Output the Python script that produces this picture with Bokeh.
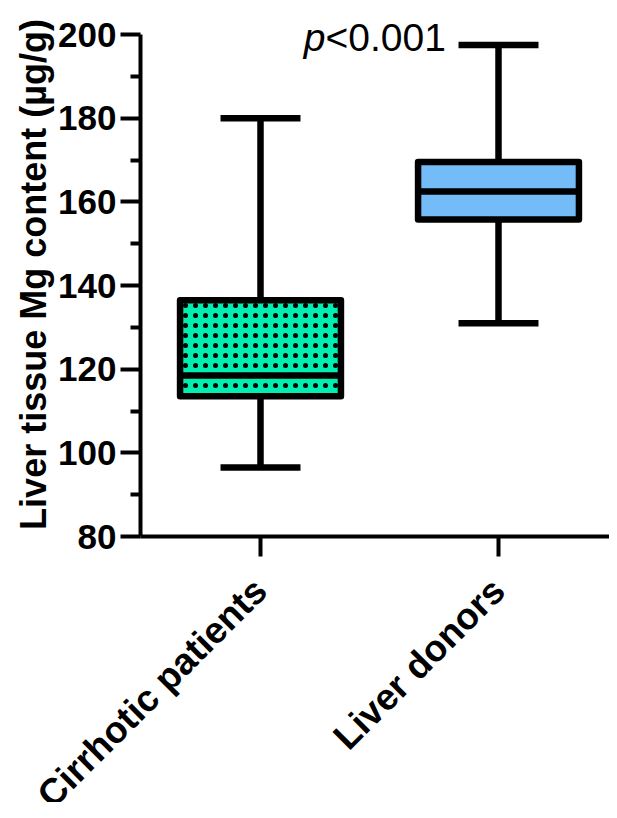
import math
from bokeh.plotting import figure
from bokeh.models import Range1d, FixedTicker, Label
from bokeh.embed import file_html
from bokeh.resources import INLINE

# ---- data ----
groups = ["Cirrhotic patients", "Liver donors"]
positions = [1, 2]
whisker_low = [96.5, 131.0]
q1 = [113.5, 155.8]
median = [118.5, 162.5]
q3 = [136.5, 169.5]
whisker_high = [180.0, 197.5]
y_ticks = [80, 100, 120, 140, 160, 180, 200]
y_minor = [90, 110, 130, 150, 170, 190]
y_label = "Liver tissue Mg content (µg/g)"
p_text_prefix = "p"
p_text_rest = "<0.001"

# ---- styles / layout ----
fills = ["#00EEB0", "#74BCF8"]
hatches = ["dot", "blank"]
FONT = "Liberation Sans"
LW = 6.5
BOX_W = 0.676
CAP_HALF = 0.168
W, H = 609, 802
PX_PER_Y = 502 / 120          # px per y unit
PX_PER_X = 238                # px per x unit
Y_TOP_PX = 34                 # canvas px of y=200
X1_PX = 260                   # canvas px of x=1
AXIS_X_PX = 140               # canvas px of the y axis line

y_top = y_ticks[-1] + Y_TOP_PX / PX_PER_Y
y_bottom = y_top - H / PX_PER_Y
x_start = positions[0] - X1_PX / PX_PER_X
x_end = x_start + W / PX_PER_X
x_axis_loc = x_start + AXIS_X_PX / PX_PER_X

p = figure(width=W, height=H, output_backend="svg", toolbar_location=None,
           x_range=Range1d(x_start, x_end), y_range=Range1d(y_bottom, y_top),
           min_border_left=0, min_border_right=0, min_border_top=0,
           min_border_bottom=0)
p.outline_line_color = None
p.xgrid.visible = False
p.ygrid.visible = False
p.background_fill_color = "white"
p.border_fill_color = "white"

# whiskers (vertical)
p.segment(x0=positions, y0=whisker_low, x1=positions, y1=whisker_high,
          line_color="black", line_width=LW, line_cap="butt")

# boxes
for i in range(len(groups)):
    p.vbar(x=[positions[i]], width=BOX_W, bottom=[q1[i]], top=[q3[i]],
           fill_color=fills[i], line_color="black", line_width=LW,
           line_join="round", hatch_pattern=hatches[i], hatch_color="black",
           hatch_scale=10, hatch_weight=1.5)

# medians
p.segment(x0=[x - BOX_W / 2 for x in positions], y0=median,
          x1=[x + BOX_W / 2 for x in positions], y1=median,
          line_color="black", line_width=LW, line_cap="butt")

# caps
for yy in (whisker_low, whisker_high):
    p.segment(x0=[x - CAP_HALF for x in positions], y0=yy,
              x1=[x + CAP_HALF for x in positions], y1=yy,
              line_color="black", line_width=LW, line_cap="butt")

# axes styling
for ax in (p.xaxis[0], p.yaxis[0]):
    ax.axis_line_width = 4
    ax.axis_line_color = "black"
    ax.major_tick_line_width = 4
    ax.major_tick_line_color = "black"
    ax.minor_tick_line_width = 4
    ax.minor_tick_line_color = "black"
    ax.major_tick_in = 0
    ax.major_tick_out = 20
    ax.minor_tick_in = 0
    ax.minor_tick_out = 10
    ax.major_label_text_font = FONT
    ax.major_label_text_font_style = "bold"
    ax.major_label_text_font_size = "35px"
    ax.major_label_text_color = "black"

p.yaxis.ticker = FixedTicker(ticks=y_ticks, minor_ticks=y_minor)
p.yaxis.bounds = (y_ticks[0], y_ticks[-1])
p.yaxis.fixed_location = x_axis_loc
p.yaxis.major_label_standoff = 4

p.xaxis.ticker = FixedTicker(ticks=positions, minor_ticks=[])
p.xaxis.bounds = (x_axis_loc, x_end)
p.xaxis.fixed_location = y_ticks[0]
p.xaxis.major_label_overrides = {pos: g for pos, g in zip(positions, groups)}
p.xaxis.major_label_orientation = 0.785398
p.xaxis.major_label_standoff = 28
p.xaxis.major_label_text_font_size = "37px"

# y axis title (rotated)
p.add_layout(Label(x=x_start + 33 / PX_PER_X, y=y_top - 274 / PX_PER_Y,
                   text=y_label, angle=math.pi / 2, text_align="center",
                   text_baseline="alphabetic", text_font=FONT,
                   text_font_style="bold", text_font_size="36px",
                   text_color="black"))

# p-value annotation
p.add_layout(Label(x=1.273, y=199.3, text=p_text_prefix, text_align="right",
                   text_baseline="alphabetic", text_font=FONT,
                   text_font_style="italic", text_font_size="39px",
                   text_color="black"))
p.add_layout(Label(x=1.273, y=199.3, text=p_text_rest, text_align="left",
                   text_baseline="alphabetic", text_font=FONT,
                   text_font_size="39px", text_color="black"))

open("out.html", "w").write(file_html(p, INLINE))
